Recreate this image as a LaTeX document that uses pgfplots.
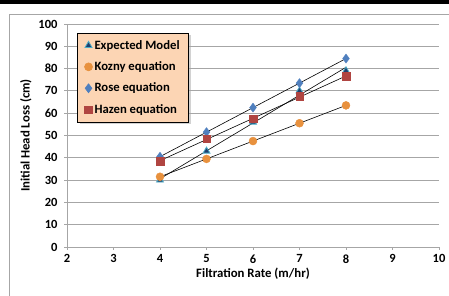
\documentclass[border=0pt]{standalone}
\usepackage{pgfplots}
\usepackage{pgfplotstable}
\pgfplotsset{compat=1.18}
\usetikzlibrary{shadows}
\usepackage{fontspec}
\setmainfont{Carlito}
\definecolor{expfill}{HTML}{1F3F6E}
\definecolor{expedge}{HTML}{4BACC6}
\definecolor{kozny}{HTML}{E8913E}
\definecolor{rose}{HTML}{4F7FBE}
\definecolor{hazen}{HTML}{B04541}
\definecolor{legfill}{HTML}{FCD5B4}
\definecolor{gridgray}{HTML}{A6A6A6}

\pgfplotstableread{
x y
4 30
5 43
6 56
7 70
8 79
}\expected
\pgfplotstableread{
x y
4 31.5
5 39.5
6 47.5
7 55.5
8 63.5
}\kozny
\pgfplotstableread{
x y
4 40.5
5 51.5
6 62.5
7 73.5
8 84.5
}\rose
\pgfplotstableread{
x y
4 38.5
5 48.5
6 57.5
7 67.5
8 76.5
}\hazen

\begin{document}
\begin{tikzpicture}[x=1pt,y=1pt]
\begin{scope}
\clip (0,0) rectangle (449,296);
\fill[black] (0,292) rectangle (449,297);
\draw[gridgray, line width=0.8pt] (9.5,-5) rectangle (449.3,282);
\end{scope}
\begin{axis}[
  at={(67pt,49pt)}, anchor=south west,
  scale only axis, width=372pt, height=223pt,
  xmin=2, xmax=10, ymin=0, ymax=100,
  xtick={2,3,...,10}, ytick={0,10,...,100},
  axis x line=bottom, axis y line=left,
  axis line style={-, gridgray, line width=0.8pt},
  tick align=outside, major tick length=3pt,
  tick style={gridgray, line width=0.8pt},
  ymajorgrids, grid style={gridgray, line width=0.8pt},
  ticklabel style={font=\bfseries\fontsize{12.5}{14}\selectfont},
  xticklabel style={yshift=-1pt},
  yticklabel style={xshift=-3pt},
  /pgf/number format/assume math mode=true,
  xlabel={\bfseries Filtration Rate (m/hr)},
  ylabel={\bfseries Initial Head Loss (cm)},
  label style={font=\bfseries\fontsize{12.8}{14}\selectfont},
  xlabel style={yshift=2pt},
  ylabel style={yshift=0pt},
  legend cell align=left,
  legend style={at={(axis cs:2.22,96)}, anchor=north west,
    fill=legfill, draw=black, line width=0.6pt,
    font=\bfseries\fontsize{12.7}{14}\selectfont,
    row sep=7pt, inner xsep=7pt, inner ysep=5pt,
    drop shadow={shadow xshift=2pt, shadow yshift=-2pt, fill=gray!70}},
  legend image code/.code={\coordinate (legL) at (0pt,0pt);\coordinate (legR) at (17pt,0pt);\draw[#1, only marks] plot coordinates {(13pt,0pt)};},
]
\addplot[only marks, mark=triangle*, mark size=4pt, draw=expedge, fill=expfill, line width=0.8pt] table[x=x,y=y]{\expected};
\addlegendentry{Expected Model}
\addplot[only marks, mark=*, mark size=4pt, draw=kozny, fill=kozny] table[x=x,y=y]{\kozny};
\addlegendentry{Kozny equation}
\addplot[only marks, mark=diamond*, mark size=4.5pt, draw=rose, fill=rose] table[x=x,y=y]{\rose};
\addlegendentry{Rose equation}
\addplot[only marks, mark=square*, mark size=3.8pt, draw=hazen, fill=hazen] table[x=x,y=y]{\hazen};
\addlegendentry{Hazen equation}
\addplot[black, line width=0.6pt, forget plot] table[x=x, y={create col/linear regression={y=y}}]{\expected};
\addplot[black, line width=0.6pt, forget plot] table[x=x, y={create col/linear regression={y=y}}]{\kozny};
\addplot[black, line width=0.6pt, forget plot] table[x=x, y={create col/linear regression={y=y}}]{\rose};
\addplot[black, line width=0.6pt, forget plot] table[x=x, y={create col/linear regression={y=y}}]{\hazen};
\end{axis}
\pgfresetboundingbox
\useasboundingbox (0,0) rectangle (449,296);
\end{tikzpicture}
\end{document}
